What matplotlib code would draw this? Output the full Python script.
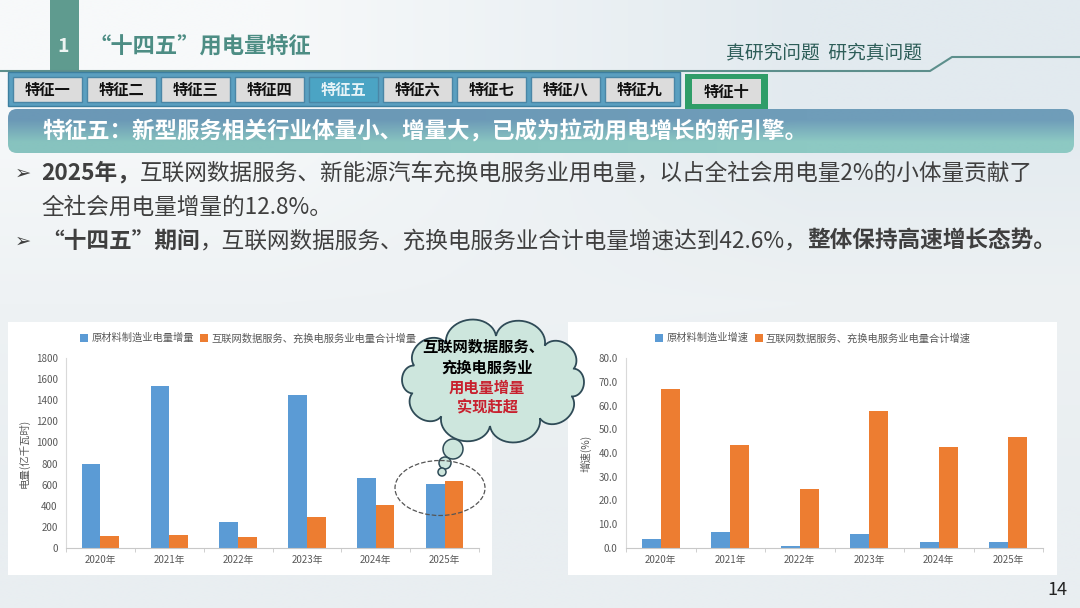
import matplotlib
matplotlib.use('Agg')
import matplotlib.pyplot as plt
import numpy as np
from matplotlib.patches import Rectangle, FancyBboxPatch, Ellipse, Circle, Polygon
from matplotlib.colors import to_rgb

plt.rcParams['font.family'] = ['Noto Sans CJK SC', 'DejaVu Sans']

# data
years = ['2020年', '2021年', '2022年', '2023年', '2024年', '2025年']
raw_inc = [796, 1532, 246, 1449, 666, 609]      # 原材料制造业电量增量 (亿千瓦时)
new_inc = [117, 126, 104, 297, 404, 635]        # 互联网数据服务、充换电服务业电量合计增量
raw_rate = [3.6, 6.7, 1.0, 5.9, 2.7, 2.4]       # 原材料制造业增速 (%)
new_rate = [67.1, 43.5, 25.0, 57.7, 42.4, 46.7] # 互联网数据服务、充换电服务业电量合计增速 (%)
tabs = ['特征一', '特征二', '特征三', '特征四', '特征五', '特征六', '特征七', '特征八', '特征九']
active_tab = 4

BLUE = '#5b9bd5'
ORANGE = '#ed7d31'
TXT = '#3f3f3f'
W, H = 1080, 608

fig = plt.figure(figsize=(10.8, 6.08), dpi=100)
bg = fig.add_axes([0, 0, 1, 1], zorder=0)
bg.set_xlim(0, W)
bg.set_ylim(H, 0)
bg.axis('off')

# slide background
grad = np.array([[to_rgb('#f7f9fa'), to_rgb('#e2eaef')],
                 [to_rgb('#eef2f4'), to_rgb('#edf1f3')],
                 [to_rgb('#e9eef1'), to_rgb('#e9eef1')]])
bg.imshow(grad, extent=(0, W, H, 0), aspect='auto', interpolation='bilinear', zorder=0)

# header
bg.add_patch(Rectangle((50, 0), 29, 71, fc='#5f9b8f', ec='none', zorder=2))
bg.text(63, 47, '1', color='#eef5f3', fontsize=14, fontweight='bold', ha='center', va='center', zorder=3)
bg.text(89, 47, '“十四五”用电量特征', color='#4d8d84', fontsize=16, fontweight='bold', va='center', zorder=3)
bg.plot([0, 930, 952, W], [71, 71, 57, 57], color='#5d8f8c', lw=1.5, zorder=2)
bg.text(824, 53, '真研究问题  研究真问题', color='#2d5d58', fontsize=13.5, ha='center', va='center', zorder=3)

# tab bar
bg.add_patch(Rectangle((8, 72), 672, 34, fc='#5a9fc0', ec='#3d7f9f', lw=1, zorder=2))
for i, name in enumerate(tabs):
    x0 = 13 + i * 74
    on = i == active_tab
    bg.add_patch(Rectangle((x0, 77), 69, 25, fc='#4ba4c4' if on else '#dcdcdc',
                           ec='#4a86a6', lw=1, zorder=3))
    bg.text(x0 + 34.5, 89.5, name, fontsize=11, fontweight='bold',
            color='#e6f3f7' if on else '#111111', ha='center', va='center', zorder=4)
bg.add_patch(Rectangle((685, 74), 83, 36, fc='#2f9d68', ec='none', zorder=2))
bg.add_patch(Rectangle((692, 79), 69, 25, fc='#dcdcdc', ec='none', zorder=3))
bg.text(726.5, 91.5, '特征十', fontsize=11, fontweight='bold', color='#111111',
        ha='center', va='center', zorder=4)

# banner
banner = FancyBboxPatch((8, 109), 1066, 44, boxstyle='round,pad=0,rounding_size=9',
                        fc='none', ec='none', zorder=3)
bg.add_patch(banner)
bgrad = np.array([[to_rgb('#6b98b6'), to_rgb('#6f9db9')],
                  [to_rgb('#87c3bf'), to_rgb('#8dc9c3')]])
im = bg.imshow(bgrad, extent=(8, 1074, 153, 109), aspect='auto', interpolation='bilinear', zorder=3)
im.set_clip_path(banner)
bg.text(42, 132, '特征五：新型服务相关行业体量小、增量大，已成为拉动用电增长的新引擎。',
        color='white', fontsize=16.2, fontweight='bold', va='center', zorder=4)
bg.set_xlim(0, W)
bg.set_ylim(H, 0)


def draw_runs(x, y, runs, size=16.3):
    r = fig.canvas.get_renderer()
    for s, b in runs:
        t = bg.text(x, y, s, fontsize=size, fontweight='bold' if b else 'normal',
                    color=TXT, va='center', ha='left', zorder=4)
        x += t.get_window_extent(renderer=r).width


for yb in (173, 241):
    bg.text(15, yb, '➢', family='DejaVu Sans', fontsize=14, color=TXT, va='center', zorder=4)
draw_runs(41, 173, [('2025年，', True),
                    ('互联网数据服务、新能源汽车充换电服务业用电量，以占全社会用电量2%的小体量贡献了', False)])
draw_runs(41, 207, [('全社会用电量增量的12.8%。', False)])
draw_runs(41, 241, [('“十四五”期间', True),
                    ('，互联网数据服务、充换电服务业合计电量增速达到42.6%，', False),
                    ('整体保持高速增长态势。', True)])

# chart panels
bg.add_patch(Rectangle((8, 322), 484, 253, fc='white', ec='none', zorder=2))
bg.add_patch(Rectangle((568, 322), 489, 253, fc='white', ec='none', zorder=2))
bg.text(1057, 590, '14', fontsize=13, color='#222222', ha='center', va='center', zorder=4)

x = np.arange(len(years))
bw = 0.27


def make_chart(rect, s1, s2, labels, ymax, step, fmt, ylabel, lab_x, leg_x):
    ax = fig.add_axes(rect, zorder=2)
    ax.patch.set_alpha(0)
    b1 = ax.bar(x - bw / 2, s1, bw, color=BLUE, label=labels[0])
    b2 = ax.bar(x + bw / 2, s2, bw, color=ORANGE, label=labels[1])
    ax.set_xlim(-0.5, 5.5)
    ax.set_ylim(0, ymax)
    ax.set_yticks(np.arange(0, ymax + step / 2, step))
    ax.set_yticklabels([fmt.format(v) for v in np.arange(0, ymax + step / 2, step)])
    ax.set_xticks(x)
    ax.set_xticklabels(years)
    ax.set_xticks(np.arange(-0.5, 6, 1), minor=True)
    ax.tick_params(axis='x', which='major', length=0, labelsize=7, labelcolor='#595959', pad=5)
    ax.tick_params(axis='x', which='minor', length=3, color='#c8c8c8')
    ax.tick_params(axis='y', length=0, labelsize=7, labelcolor='#595959', pad=6)
    for s in ['top', 'right']:
        ax.spines[s].set_visible(False)
    ax.spines['left'].set_color('#d9d9d9')
    ax.spines['bottom'].set_color('#c8c8c8')
    ax.set_ylabel(ylabel, fontsize=7.5, color='#595959')
    ax.yaxis.set_label_coords(lab_x, 0.5)
    ax.legend(handles=[b1, b2], loc='center left', bbox_to_anchor=(leg_x, 1.105), ncol=2,
              frameon=False, fontsize=7.4, labelcolor='#595959', handlelength=0.8,
              handleheight=0.8, handletextpad=0.3, columnspacing=0.6,
              borderpad=0, borderaxespad=0)
    return ax


make_chart([66 / W, (H - 548) / H, 413 / W, 190 / H], raw_inc, new_inc,
           ['原材料制造业电量增量', '互联网数据服务、充换电服务业电量合计增量'],
           1800, 200, '{:.0f}', '电量(亿千瓦时)', -0.087, 0.034)
make_chart([626 / W, (H - 548) / H, 417 / W, 190 / H], raw_rate, new_rate,
           ['原材料制造业增速', '互联网数据服务、充换电服务业电量合计增速'],
           80, 10, '{:.1f}', '增速(%)', -0.082, 0.07)

# callout cloud on top
ov = fig.add_axes([0, 0, 1, 1], zorder=5)
ov.set_xlim(0, W)
ov.set_ylim(H, 0)
ov.axis('off')
ov.patch.set_alpha(0)


def cloud(cx, cy, a, b, n, k):
    th = np.linspace(0, 2 * np.pi, n + 1) + 0.35
    px, py = cx + a * np.cos(th), cy + b * np.sin(th)
    pts = []
    t = np.linspace(0, np.pi, 24)
    for i in range(n):
        p0 = np.array([px[i], py[i]])
        p1 = np.array([px[i + 1], py[i + 1]])
        m = (p0 + p1) / 2
        h = np.hypot(*(p1 - p0)) / 2
        u = (p1 - p0) / (2 * h)
        perp = np.array([u[1], -u[0]])
        if np.dot(perp, m - [cx, cy]) < 0:
            perp = -perp
        pts.append(m - h * np.cos(t)[:, None] * u + k * h * np.sin(t)[:, None] * perp)
    return np.vstack(pts)


CF, CE = '#cde6dd', '#2f4b57'
ov.add_patch(Polygon(cloud(493, 381, 84, 45, 10, 0.8), closed=True, fc=CF, ec=CE, lw=1.3, zorder=2))
for (cx, cy, r) in [(453, 449, 10), (445, 463, 6), (442, 472, 4)]:
    ov.add_patch(Circle((cx, cy), r, fc=CF, ec=CE, lw=1.1, zorder=2))
cloud_lines = [('互联网数据服务、', 'black', 483, 347), ('充换电服务业', 'black', 487, 368),
               ('用电量增量', '#c8202e', 487, 388), ('实现赶超', '#c8202e', 487, 407)]
for s, c, tx, ty in cloud_lines:
    ov.text(tx, ty, s, color=c, fontsize=11, fontweight='bold', ha='center', va='center', zorder=3)
ov.add_patch(Ellipse((440, 488), 90, 55, fill=False, ec='#555555', ls='--', lw=0.9, zorder=2))

fig.savefig('out.png', dpi=100)
